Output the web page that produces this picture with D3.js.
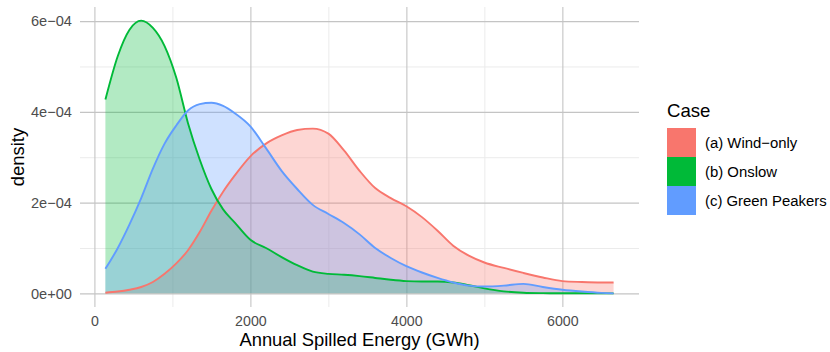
<!DOCTYPE html>
<html>
<head>
<meta charset="utf-8">
<script src="https://cdn.jsdelivr.net/npm/d3@7"></script>
<style>
  body { margin: 0; background: #fff; }
  svg { display: block; font-family: "Liberation Sans", Arial, sans-serif; }
</style>
</head>
<body>
<script>
// spilled energy grid (GWh)
let energy = [141, 300, 450, 600, 750, 900, 1050, 1200, 1350, 1500, 1650, 1800, 2000, 2200, 2400,
  2600, 2800, 3000, 3200, 3400, 3600, 3800, 4000, 4200, 4400, 4600, 4800, 5000, 5250, 5500,
  5750, 6000, 6250, 6500, 6657]

// densities, in units of 1e-4
let windOnly = [0.015, 0.04, 0.08, 0.14, 0.25, 0.43, 0.66, 0.95, 1.35, 1.82, 2.24, 2.6, 3.02, 3.3, 3.48,
  3.6, 3.63, 3.52, 3.15, 2.7, 2.32, 2.1, 1.92, 1.68, 1.38, 1.05, 0.83, 0.68, 0.56, 0.45,
  0.35, 0.27, 0.25, 0.24, 0.24]
let onslow = [4.27, 5.23, 5.81, 6.01, 5.85, 5.45, 4.75, 3.75, 2.95, 2.3, 1.85, 1.56, 1.18, 1.0, 0.8,
  0.62, 0.48, 0.43, 0.41, 0.38, 0.34, 0.3, 0.27, 0.26, 0.26, 0.24, 0.18, 0.11, 0.045, 0.015,
  0.005, 0.002, 0.001, 0, 0]
let greenPeakers = [0.54, 1.0, 1.52, 2.1, 2.75, 3.3, 3.7, 4.03, 4.17, 4.2, 4.13, 3.97, 3.68, 3.2, 2.7,
  2.3, 1.95, 1.75, 1.55, 1.3, 1.0, 0.78, 0.6, 0.46, 0.34, 0.24, 0.17, 0.15, 0.17, 0.21,
  0.14, 0.08, 0.04, 0.01, 0]

let cases = ['(a) Wind\u2212only', '(b) Onslow', '(c) Green Peakers']
let caseColors = ['#F8766D', '#00BA38', '#619CFF']

let xTicks = [0, 2000, 4000, 6000]
let xMinor = [1000, 3000, 5000]
let yTicks = [0, 2e-4, 4e-4, 6e-4]
let yMinor = [1e-4, 3e-4, 5e-4]
let yTickLabels = ['0e+00', '2e\u221204', '4e\u221204', '6e\u221204']

let width = 830
let height = 352
let panel = { left: 80, right: 639, top: 7, bottom: 307 }

let series = [windOnly, onslow, greenPeakers].map((vals, i) => ({
  name: cases[i],
  color: caseColors[i],
  points: energy.map((e, j) => ({ x: e, y: vals[j] * 1e-4 }))
}))

let svg = d3.select('body').append('svg')
  .attr('width', width)
  .attr('height', height)

// ggplot-style 5% expansion
let xExt = [d3.min(energy), d3.max(energy)]
let xPad = (xExt[1] - xExt[0]) * 0.05
let xScale = d3.scaleLinear()
  .domain([xExt[0] - xPad, xExt[1] + xPad])
  .range([panel.left, panel.right])

let yMax = d3.max(series, s => d3.max(s.points, p => p.y))
let yScale = d3.scaleLinear()
  .domain([-yMax * 0.05, yMax * 1.05])
  .range([panel.bottom, panel.top])

let panelW = panel.right - panel.left
let panelH = panel.bottom - panel.top

//grid lines
let drawGrid = (xs, ys, color, w) => {
  svg.append('g')
    .attr('transform', `translate(0, ${panel.bottom})`)
    .call(d3.axisBottom(xScale).tickValues(xs).tickSize(-panelH).tickFormat(''))
    .call(g => g.select('.domain').remove())
    .call(g => g.selectAll('line').attr('stroke', color).attr('stroke-width', w))
  svg.append('g')
    .attr('transform', `translate(${panel.left}, 0)`)
    .call(d3.axisLeft(yScale).tickValues(ys).tickSize(-panelW).tickFormat(''))
    .call(g => g.select('.domain').remove())
    .call(g => g.selectAll('line').attr('stroke', color).attr('stroke-width', w))
}
drawGrid(xMinor, yMinor, '#ebebeb', 1)
drawGrid(xTicks, yTicks, '#c4c4c4', 1.1)

//density areas, then outlines on top
let area = d3.area()
  .x(d => xScale(d.x))
  .y0(yScale(0))
  .y1(d => yScale(d.y))
  .curve(d3.curveMonotoneX)

let line = d3.line()
  .x(d => xScale(d.x))
  .y(d => yScale(d.y))
  .curve(d3.curveMonotoneX)

series.forEach(s => {
  svg.append('path')
    .datum(s.points)
    .attr('d', area)
    .attr('fill', s.color)
    .attr('fill-opacity', 0.3)
})
series.forEach(s => {
  svg.append('path')
    .datum(s.points)
    .attr('d', line)
    .attr('fill', 'none')
    .attr('stroke', s.color)
    .attr('stroke-width', 1.9)
})

//axes labels
svg.append('g')
  .attr('transform', `translate(0, ${panel.bottom})`)
  .call(d3.axisBottom(xScale).tickValues(xTicks).tickSize(0).tickPadding(9).tickFormat(d3.format('d')))
  .call(g => g.select('.domain').remove())
  .call(g => g.selectAll('text').attr('fill', '#4d4d4d').style('font-size', '14.2px')
    .style('font-family', '"Liberation Sans", Arial, sans-serif'))

svg.append('g')
  .attr('transform', `translate(${panel.left - 8}, 0)`)
  .call(d3.axisLeft(yScale).tickValues(yTicks).tickSize(0).tickPadding(0)
    .tickFormat((d, i) => yTickLabels[i]))
  .call(g => g.select('.domain').remove())
  .call(g => g.selectAll('text').attr('fill', '#4d4d4d').style('font-size', '14.6px')
    .style('font-family', '"Liberation Sans", Arial, sans-serif'))

svg.append('text')
  .attr('x', (panel.left + panel.right) / 2)
  .attr('y', 346)
  .attr('text-anchor', 'middle')
  .style('font-size', '18.4px')
  .text('Annual Spilled Energy (GWh)')

svg.append('text')
  .attr('transform', `translate(24, ${(panel.top + panel.bottom) / 2}) rotate(-90)`)
  .attr('text-anchor', 'middle')
  .style('font-size', '18.4px')
  .text('density')

//legend
let legend = svg.append('g').attr('transform', 'translate(667, 0)')
legend.append('text')
  .attr('x', 0)
  .attr('y', 116.5)
  .style('font-size', '18.6px')
  .text('Case')

let key = 29
series.forEach((s, i) => {
  legend.append('rect')
    .attr('x', 0)
    .attr('y', 128 + i * key)
    .attr('width', key)
    .attr('height', key)
    .attr('fill', s.color)
  legend.append('text')
    .attr('x', 38)
    .attr('y', 128 + i * key + key / 2)
    .attr('dy', '0.35em')
    .style('font-size', '14.9px')
    .text(s.name)
})
</script>
</body>
</html>
